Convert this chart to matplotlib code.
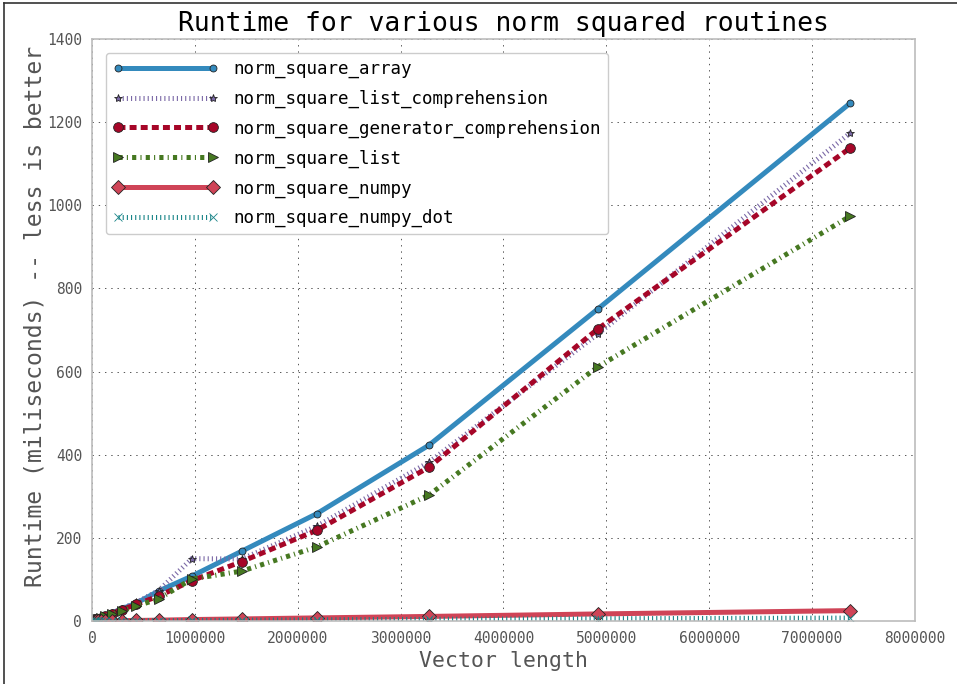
import numpy as np
import matplotlib
matplotlib.use("Agg")
import matplotlib.pyplot as plt
from matplotlib.lines import Line2D

# vector lengths used in the timing runs
sizes = [16834, 25251, 37877, 56815, 85223, 127834, 191751, 287627, 431441,
         647162, 970743, 1456114, 2184171, 3276256, 4914385, 7371577]

# runtimes in miliseconds
t_array = [2, 3, 4, 6, 9, 13, 19, 29, 43, 72, 108, 168, 258, 423, 750, 1246]
t_list_comp = [2, 3, 4, 6, 9, 13, 19, 30, 45, 73, 150, 149, 228, 382, 690, 1174]
t_gen_comp = [2, 2.5, 4, 5.5, 8, 12, 18, 27, 40, 60, 97, 143, 218, 370, 702, 1138]
t_list = [1.5, 2.5, 3.5, 5, 7.5, 11, 16, 24, 36, 53, 101, 120, 178, 303, 611, 974]
t_numpy = [0.1, 0.1, 0.15, 0.2, 0.3, 0.4, 0.6, 0.9, 1.3, 2, 3.5, 5, 7.5, 11, 17, 25]
t_numpy_dot = [0.05, 0.06, 0.08, 0.1, 0.13, 0.2, 0.3, 0.4, 0.6, 0.9, 1.3, 1.9, 2.8, 4, 5.5, 7]

labels = ["norm_square_array", "norm_square_list_comprehension",
          "norm_square_generator_comprehension", "norm_square_list",
          "norm_square_numpy", "norm_square_numpy_dot"]

plt.rcParams['font.family'] = ['DejaVu Sans Mono']
plt.rcParams['lines.scale_dashes'] = False

fig = plt.figure(figsize=(9.57, 6.84), dpi=100)
ax = fig.add_axes([0.0961, 0.0921, 0.8600, 0.8509])

# (data, color, linestyle, marker, markersize)
styles = [
    (t_array, '#348ABD', '-', 'o', 5),
    (t_list_comp, '#7A68A6', (0, (0.8, 2.2)), '*', 6),
    (t_gen_comp, '#A60628', (0, (5, 3)), 'o', 7),
    (t_list, '#467821', (0, (3, 3, 0.8, 3)), '>', 7),
    (t_numpy, '#CF4457', '-', 'D', 7),
    (t_numpy_dot, '#188487', (0, (0.8, 2.2)), 'x', 6),
]
for (y, c, ls, m, ms), lab in zip(styles, labels):
    edge = c if m == 'x' else '#222222'
    ax.plot(sizes, y, color=c, linestyle=ls, lw=3.6, marker=m, ms=ms,
            markerfacecolor=c, markeredgecolor=edge, markeredgewidth=0.6,
            label=lab, dash_capstyle='butt')

ax.set_xlim(0, 8000000)
ax.set_ylim(0, 1400)
ax.set_xticks(np.arange(0, 8000001, 1000000))
ax.set_yticks(np.arange(0, 1401, 200))
ax.ticklabel_format(style='plain')
ax.grid(True, color='#555555', linestyle=(0, (1, 3.5)), lw=0.7)
ax.set_axisbelow(True)
for s in ax.spines.values():
    s.set_color('#bcbcbc')
    s.set_linewidth(1.2)
ax.tick_params(length=0, labelsize=10.5, labelcolor='#555555')
ax.tick_params(axis='x', pad=7)
ax.tick_params(axis='y', pad=7)

ax.set_title("Runtime for various norm squared routines", fontsize=19, pad=6)
ax.set_xlabel("Vector length", fontsize=15.5, color='#555555', labelpad=4)
ax.set_ylabel("Runtime (miliseconds) -- less is better", fontsize=16.7,
              color='#555555', va='center')
ax.yaxis.set_label_coords(-0.069, 0.524)

leg = ax.legend(loc='upper left', numpoints=2, fontsize=12.6, handlelength=6.0,
                labelspacing=0.66, borderaxespad=0.8, handletextpad=0.9,
                fancybox=True, framealpha=1)
leg.get_frame().set_edgecolor('#cccccc')

# dark frame line on left and top edge of the picture
fig.add_artist(Line2D([0.004, 0.004], [0, 0.996], color='#333333', lw=1.2))
fig.add_artist(Line2D([0.004, 1], [0.996, 0.996], color='#333333', lw=1.2))

fig.savefig("out.png", dpi=100)
